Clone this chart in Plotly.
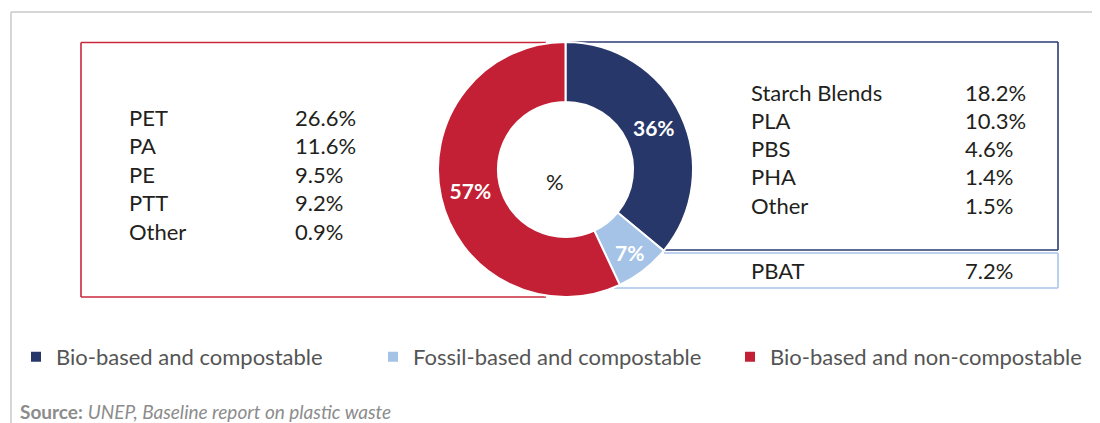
import plotly.graph_objects as go

# The page body has an 8px margin, so the figure is drawn 8px smaller and
# every reference pixel position is shifted by that offset.
OFF = 8
W, H = 1100 - OFF, 423 - OFF

# ---- data ----
groups = ["Bio-based and compostable", "Fossil-based and compostable", "Bio-based and non-compostable"]
shares = [36, 7, 57]
colors = ["#283769", "#a5c3e7", "#c32035"]

nonc_labels = ["PET", "PA", "PE", "PTT", "Other"]
nonc_values = ["26.6%", "11.6%", "9.5%", "9.2%", "0.9%"]

bio_labels = ["Starch Blends", "PLA", "PBS", "PHA", "Other"]
bio_values = ["18.2%", "10.3%", "4.6%", "1.4%", "1.5%"]

fossil_labels = ["PBAT"]
fossil_values = ["7.2%"]

FONT = "Lato"
TXT = "#231f20"


def px(x):
    return (x - OFF) / W


def py(y):
    return 1 - (y - OFF) / H


fig = go.Figure()

cx, cy, R = 565.5, 169.5, 127.5
fig.add_trace(go.Pie(
    labels=groups,
    values=shares,
    marker=dict(colors=colors, line=dict(color="white", width=2)),
    hole=0.53,
    sort=False,
    direction="clockwise",
    rotation=0,
    texttemplate="%{value}%",
    textposition="inside",
    insidetextorientation="horizontal",
    textfont=dict(family=FONT, size=21, color="white", weight="bold"),
    domain=dict(x=[px(cx - R), px(cx + R)], y=[py(cy + R), py(cy - R)]),
    hoverinfo="label+percent",
))

shapes = []


def line(x0, y0, x1, y1, color, width=1.6):
    shapes.append(dict(type="line", xref="paper", yref="paper",
                       x0=px(x0), y0=py(y0), x1=px(x1), y1=py(y1),
                       line=dict(color=color, width=width), layer="below"))


# outer grey frame
line(11, 12, 1105, 12, "#c8c8c8", 1.5)
line(11, 12, 11, 430, "#c8c8c8", 1.5)

# red box (non-compostable)
red = "#c8283c"
line(81, 42.5, 546, 42.5, red)
line(81, 42.5, 81, 297, red)
line(81, 297, 546, 297, red)

# dark blue box (bio-based compostable)
blue = "#2c3b73"
line(566, 42, 1058, 42, blue)
line(1058, 42, 1058, 250, blue)
line(662, 250, 1058, 250, blue)

# light blue box (fossil compostable)
lblue = "#a7c4ea"
line(664, 253, 1058, 253, lblue)
line(1058, 253, 1058, 288, lblue)
line(614, 288, 1058, 288, lblue)

annotations = []


def text(x, y, s, size=22, color=TXT, xanchor="left"):
    annotations.append(dict(x=px(x), y=py(y), xref="paper", yref="paper",
                            text=s, showarrow=False, xanchor=xanchor, yanchor="middle",
                            font=dict(family=FONT, size=size, color=color)))


for i, (lab, val) in enumerate(zip(nonc_labels, nonc_values)):
    y = 117 + 28.6 * i
    text(127, y, lab)
    text(293, y, val)

for i, (lab, val) in enumerate(zip(bio_labels, bio_values)):
    y = 92 + 28.3 * i
    text(749, y, lab)
    text(963, y, val)

for i, (lab, val) in enumerate(zip(fossil_labels, fossil_values)):
    y = 270 + 28.3 * i
    text(749, y, lab)
    text(963, y, val)

# centre label
text(555, 181, "%", size=22, xanchor="center")

# source
text(18, 411, "<b>Source:</b> <i>UNEP, Baseline report on plastic waste</i>", size=19, color="#8c8c8c")

fig.update_layout(
    width=W, height=H,
    margin=dict(l=0, r=0, t=0, b=0),
    paper_bgcolor="white",
    plot_bgcolor="white",
    shapes=shapes,
    annotations=annotations,
    showlegend=True,
    legend=dict(
        orientation="h",
        x=px(16), y=py(357), xanchor="left", yanchor="middle",
        font=dict(family=FONT, size=22, color="#555555"),
        entrywidth=312, entrywidthmode="pixels",
        bgcolor="rgba(0,0,0,0)",
        traceorder="normal",
    ),
    font=dict(family=FONT),
)

fig.write_html("out.html")
